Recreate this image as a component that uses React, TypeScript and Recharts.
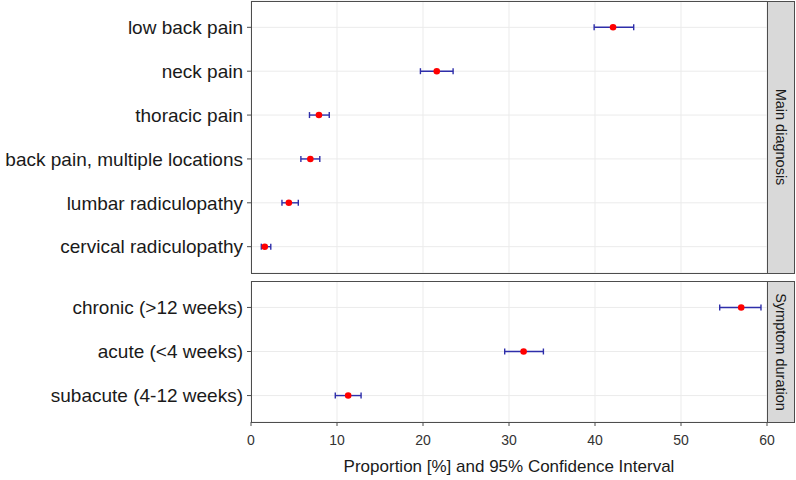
import { ScatterChart, Scatter, XAxis, YAxis, CartesianGrid, ErrorBar } from 'recharts'

const diagLabels = [
  'low back pain',
  'neck pain',
  'thoracic pain',
  'back pain, multiple locations',
  'lumbar radiculopathy',
  'cervical radiculopathy',
]
const diagProp = [42.1, 21.6, 7.9, 6.9, 4.4, 1.6]
const diagLow = [39.9, 19.7, 6.8, 5.8, 3.6, 1.2]
const diagHigh = [44.5, 23.5, 9.1, 8.0, 5.5, 2.3]

const durLabels = ['chronic (>12 weeks)', 'acute (<4 weeks)', 'subacute (4-12 weeks)']
const durProp = [57.0, 31.7, 11.3]
const durLow = [54.5, 29.5, 9.8]
const durHigh = [59.3, 34.0, 12.8]

const xTicks = [0, 10, 20, 30, 40, 50, 60]

const build = (props: number[], low: number[], high: number[]) =>
  props.map((p, i) => ({ pos: i + 1, prop: p, err: [p - low[i], high[i] - p] }))

const diagData = build(diagProp, diagLow, diagHigh)
const durData = build(durProp, durLow, durHigh)

const FONT = 'Arial, "Liberation Sans", sans-serif'
const BORDER = '#4d4d4d'
const GRID = '#ebebeb'

const Dot = (p: any) => <circle cx={p.cx} cy={p.cy} r={3.3} fill="#ff0000" />

function Panel({ data, labels, height, marginTop, marginBottom, showX }: {
  data: { pos: number; prop: number; err: number[] }[]
  labels: string[]
  height: number
  marginTop: number
  marginBottom: number
  showX: boolean
}) {
  const n = labels.length
  return (
    <ScatterChart
      width={796}
      height={height}
      margin={{ top: marginTop, right: 29, bottom: marginBottom, left: 0 }}
    >
      <CartesianGrid stroke={GRID} strokeWidth={1} />
      <XAxis
        type="number"
        dataKey="prop"
        domain={[0, 60]}
        ticks={xTicks}
        allowDataOverflow
        hide={!showX}
        height={30}
        axisLine={false}
        tickSize={4}
        tickMargin={9}
        tickLine={{ stroke: BORDER }}
        tick={{ fontSize: 14, fill: '#333', fontFamily: FONT }}
      />
      <YAxis
        type="number"
        dataKey="pos"
        domain={[0.4, n + 0.6]}
        ticks={labels.map((_, i) => i + 1)}
        tickFormatter={(v: number) => labels[v - 1] ?? ''}
        reversed
        allowDataOverflow
        width={251}
        axisLine={false}
        tickSize={4}
        tickMargin={4}
        tickLine={{ stroke: BORDER }}
        tick={{ fontSize: 19, fill: '#1a1a1a', fontFamily: FONT }}
        interval={0}
      />
      <Scatter data={data} shape={Dot} isAnimationActive={false}>
        <ErrorBar dataKey="err" direction="x" width={3} stroke="#2e2eaa" strokeWidth={1.4} />
      </Scatter>
    </ScatterChart>
  )
}

const box = (top: number, height: number, left: number, width: number, bg = 'transparent') => ({
  position: 'absolute' as const,
  top,
  left,
  width,
  height,
  boxSizing: 'border-box' as const,
  border: `1px solid ${BORDER}`,
  background: bg,
  pointerEvents: 'none' as const,
})

const stripText = {
  position: 'absolute' as const,
  left: '50%',
  top: '50%',
  transform: 'translate(-50%, -50%) rotate(90deg)',
  whiteSpace: 'nowrap' as const,
  fontFamily: FONT,
  fontSize: 14.5,
  color: '#1a1a1a',
}

export default function App() {
  return (
    <div style={{ position: 'absolute', left: 0, top: 0, width: 796, height: 480, background: '#fff', overflow: 'hidden' }}>
      <div style={{ position: 'absolute', left: 0, top: 0 }}>
        <Panel data={diagData} labels={diagLabels} height={273} marginTop={1} marginBottom={0} showX={false} />
      </div>
      <div style={{ position: 'absolute', left: 0, top: 281 }}>
        <Panel data={durData} labels={durLabels} height={199} marginTop={0} marginBottom={28} showX />
      </div>
      <div style={box(0.5, 273, 251, 517)} />
      <div style={box(280.5, 142, 251, 517)} />
      <div style={box(0.5, 273, 767, 28, '#d9d9d9')}>
        <div style={stripText}>Main diagnosis</div>
      </div>
      <div style={box(280.5, 142, 767, 28, '#d9d9d9')}>
        <div style={stripText}>Symptom duration</div>
      </div>
      <div style={{
        position: 'absolute', left: 251, width: 516, top: 457, textAlign: 'center',
        fontFamily: FONT, fontSize: 17, color: '#1a1a1a',
      }}>
        Proportion [%] and 95% Confidence Interval
      </div>
    </div>
  )
}
